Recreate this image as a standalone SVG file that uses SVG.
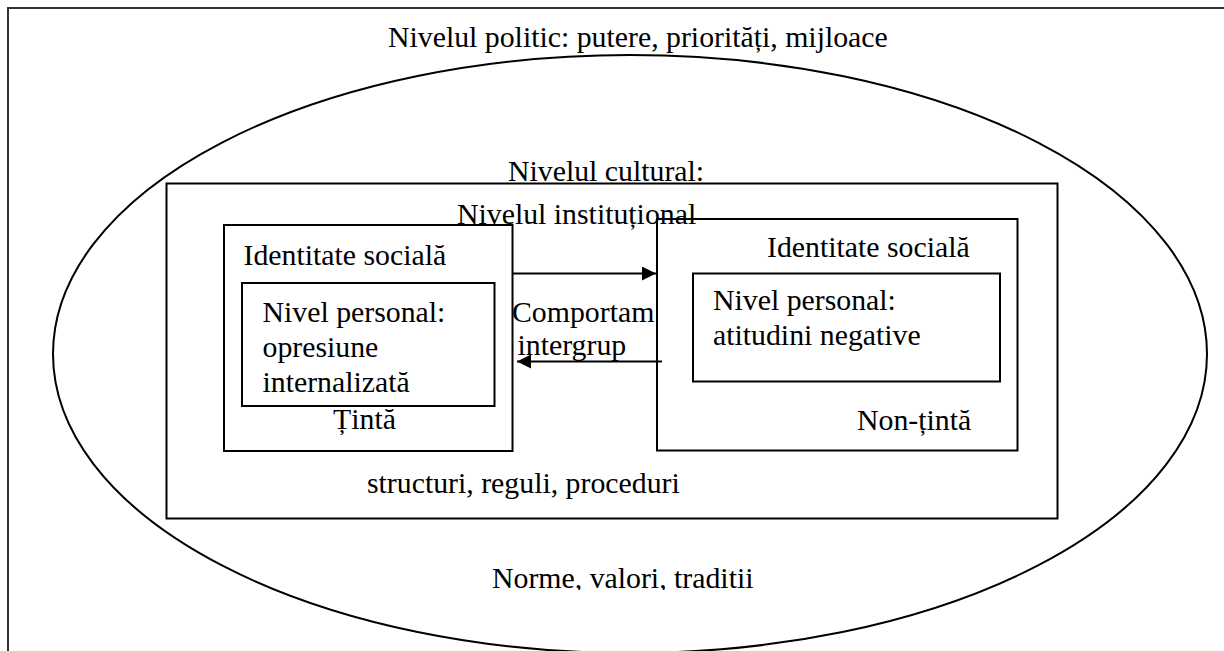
<svg xmlns="http://www.w3.org/2000/svg" width="1224" height="651" viewBox="0 0 1224 651" font-family="'Liberation Serif', 'DejaVu Serif', serif">
<style>
.ln{fill:none;stroke:#000;stroke-width:2}
.t{font-family:'Liberation Serif','DejaVu Serif',serif;font-size:29.8px;fill:#000}
</style>
<defs>
<marker id="ah" markerWidth="14" markerHeight="14" refX="14" refY="7" orient="auto" markerUnits="userSpaceOnUse">
<path d="M0,0 L14,7 L0,14 Z" fill="#000"/>
</marker>
<clipPath id="clipN"><rect x="0" y="0" width="1224" height="590"/></clipPath>
</defs>
<rect width="1224" height="651" fill="#fff"/>
<g id="frame">
<rect x="8" y="8" width="1230" height="660" fill="none" stroke="#333" stroke-width="2"/>
<text class="t" x="388" y="47">Nivelul politic: putere, priorități, mijloace</text>
</g>
<g id="cultural">
<ellipse class="ln" cx="630" cy="354" rx="577" ry="299"/>
<text class="t" x="508" y="181">Nivelul cultural:</text>
<text class="t" x="492" y="588" clip-path="url(#clipN)">Norme, valori, traditii</text>
</g>
<g id="institutional">
<rect class="ln" x="166.5" y="183.5" width="891" height="335"/>
<text class="t" x="457" y="224">Nivelul instituțional</text>
<text class="t" x="367" y="493">structuri, reguli, proceduri</text>
</g>
<g id="target">
<rect class="ln" x="224" y="225" width="288.5" height="226"/>
<text class="t" x="243.5" y="265">Identitate socială</text>
<text class="t" x="333" y="429">Țintă</text>
</g>
<g id="target-personal">
<rect class="ln" x="242" y="283" width="252.5" height="123"/>
<text class="t" x="262.5" y="322">Nivel personal:</text>
<text class="t" x="262.5" y="357">opresiune</text>
<text class="t" x="262.5" y="392">internalizată</text>
</g>
<g id="nontarget">
<rect class="ln" x="657" y="219" width="360.5" height="231.5"/>
<text class="t" x="767" y="257">Identitate socială</text>
<text class="t" x="857" y="430">Non-țintă</text>
</g>
<g id="nontarget-personal">
<rect class="ln" x="693" y="273.5" width="307" height="108"/>
<text class="t" x="713" y="310">Nivel personal:</text>
<text class="t" x="713" y="345">atitudini negative</text>
</g>
<g id="connectors">
<line class="ln" x1="512.5" y1="273.5" x2="656" y2="273.5" marker-end="url(#ah)"/>
<line class="ln" x1="662" y1="361.5" x2="517" y2="361.5" marker-end="url(#ah)"/>
<text class="t" x="512" y="322">Comportam</text>
<text class="t" x="517.5" y="355">intergrup</text>
</g>
</svg>
